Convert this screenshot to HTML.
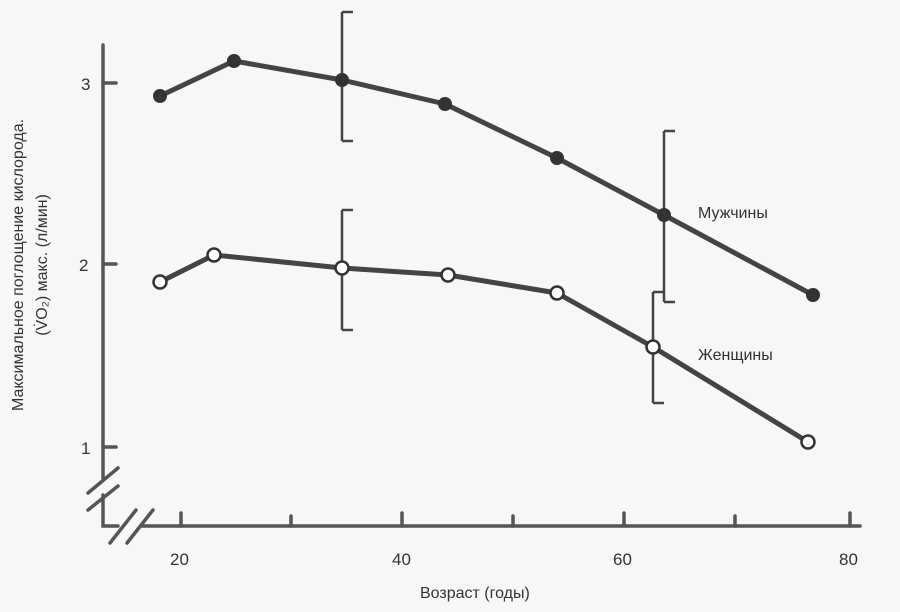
<!DOCTYPE html><html><head><style>body{margin:0;background:#f7f7f5}</style></head><body>
<svg width="900" height="612" xmlns="http://www.w3.org/2000/svg" style="display:block">
<rect width="900" height="612" fill="#f7f7f5"/>
<g stroke="#555" stroke-width="3.5" fill="none" stroke-linecap="round">
<path d="M103 45 V478 M103 495 V526 H118 M142 526 H860"/>
<path d="M88 493 L118 468 M88 510 L118 486 M110 543 L136 510 M127 543 L153 510"/>
<path d="M103 83 H116 M103 264 H116 M103 447 H116"/>
<path d="M181 526 V513 M291 526 V516 M402 526 V513 M513 526 V516 M624 526 V513 M735 526 V516 M850 526 V513"/>
</g>
<g font-family="Liberation Sans, sans-serif" font-size="17" fill="#333">
<text x="81" y="90">3</text><text x="79" y="271">2</text><text x="81" y="454">1</text>
<text x="170" y="565">20</text><text x="392" y="565">40</text><text x="613" y="565">60</text><text x="839" y="565">80</text>
<text x="420" y="598" font-size="16">Возраст (годы)</text>
<text x="698" y="218" font-size="16">Мужчины</text>
<text x="698" y="360" font-size="16">Женщины</text>
<text transform="translate(23,265) rotate(-90)" text-anchor="middle" font-size="16">Максимальное поглощение кислорода.</text>
<text transform="translate(47,265) rotate(-90)" text-anchor="middle" font-size="16">(V̇O₂) макс. (л/мин)</text>
</g>
<g stroke="#444" stroke-width="2.5" fill="none">
<path d="M342 12 V141 M342 12 H353 M342 141 H353"/>
<path d="M664 131 V302 M664 131 H675 M664 302 H675"/>
<path d="M342 210 V330 M342 210 H353 M342 330 H353"/>
<path d="M653 292 V403 M653 292 H664 M653 403 H664"/>
</g>
<g stroke="#444" stroke-width="5" fill="none" stroke-linejoin="round">
<polyline points="160,96 234,61 342,80 445,104 557,158 664,215 813,295"/>
<polyline points="160,282 214,255 342,268 448,275 557,293 653,347 808,442"/>
</g>
<g fill="#333">
<circle cx="160" cy="96" r="7"/><circle cx="234" cy="61" r="7"/><circle cx="342" cy="80" r="7"/><circle cx="445" cy="104" r="7"/><circle cx="557" cy="158" r="7"/><circle cx="664" cy="215" r="7"/><circle cx="813" cy="295" r="7"/>
</g>
<g fill="#fff" stroke="#333" stroke-width="2.5">
<circle cx="160" cy="282" r="6.5"/><circle cx="214" cy="255" r="6.5"/><circle cx="342" cy="268" r="6.5"/><circle cx="448" cy="275" r="6.5"/><circle cx="557" cy="293" r="6.5"/><circle cx="653" cy="347" r="6.5"/><circle cx="808" cy="442" r="6.5"/>
</g>
</svg>
</body></html>
